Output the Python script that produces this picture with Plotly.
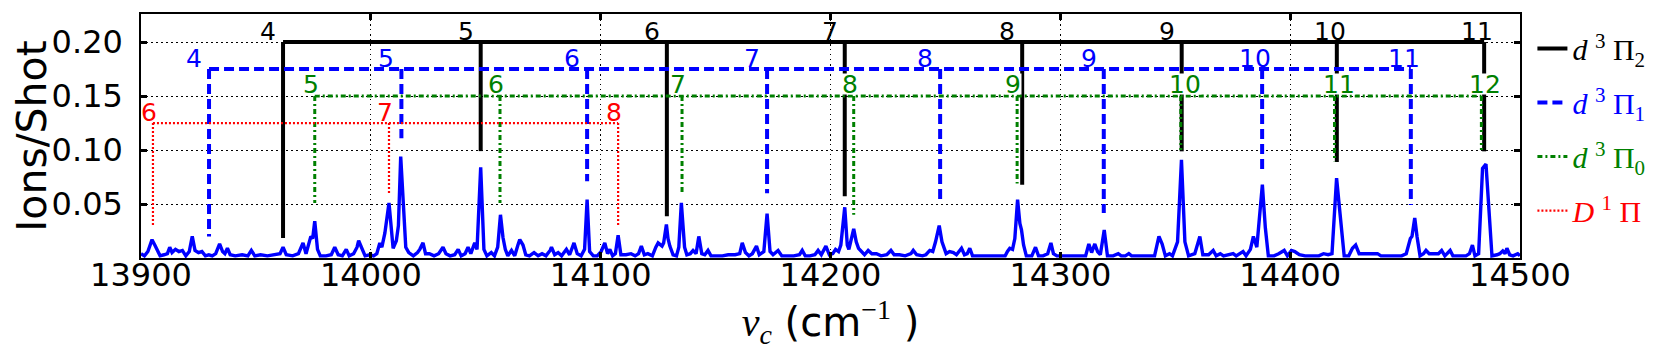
import plotly.graph_objects as go

# ---------------- spectrum data ----------------
nu_a = [13900.0, 13901.5, 13903.0, 13904.8, 13906.0, 13907.0, 13908.3, 13910.0, 13911.5, 13912.5,
        13913.5, 13915.0, 13916.5, 13918.0, 13919.5, 13921.0, 13922.3, 13923.5, 13925.0, 13926.5,
        13928.0, 13929.5, 13931.0, 13932.5, 13934.2, 13935.5, 13936.5, 13937.6, 13938.8, 13941.0,
        13944.0, 13946.5, 13948.0, 13949.5, 13952.0, 13955.0, 13958.0, 13960.5, 13961.8, 13963.2,
        13966.0, 13968.5, 13970.5, 13971.8, 13973.9, 13974.7, 13975.6, 13976.8, 13978.0, 13980.5,
        13982.8, 13984.3, 13985.8, 13987.6, 13989.3, 13990.6, 13992.5, 13994.0, 13994.7, 13996.0,
        13997.5, 13999.5]
ions_a = [.004, .002, .006, .017, .012, .008, .002, .003, .004, .010,
          .005, .008, .006, .007, .002, .006, .020, .007, .005, .006,
          .002, .003, .002, .004, .013, .006, .004, .009, .003, .002,
          .003, .002, .007, .002, .003, .002, .003, .004, .010, .003,
          .002, .004, .014, .004, .020, .018, .034, .008, .002, .002,
          .003, .010, .003, .002, .008, .002, .004, .010, .016, .009,
          .002, .003]

nu_b = [14001.2, 14002.6, 14003.9, 14004.8, 14006.1, 14007.9, 14009.7, 14011.1, 14012.0, 14013.0,
        14014.2, 14015.2, 14016.5, 14018.5, 14020.3, 14021.3, 14022.7, 14023.8, 14025.5, 14027.5,
        14029.5, 14031.4, 14032.7, 14034.5, 14036.5, 14038.0, 14039.3, 14041.0, 14042.3, 14043.5,
        14045.2, 14046.2, 14047.8, 14049.2, 14050.5, 14052.4, 14053.8, 14055.2, 14056.4, 14057.5,
        14058.5, 14059.6, 14061.2, 14062.6, 14064.0, 14064.8, 14066.2, 14067.4, 14069.0, 14071.0,
        14072.8, 14074.5, 14076.2, 14078.0, 14078.6, 14080.0, 14081.5, 14083.0, 14085.1, 14086.5,
        14088.4, 14089.8, 14091.5, 14093.0, 14094.1, 14095.2, 14096.8, 14098.5]
ions_b = [.002, .004, .014, .010, .023, .051, .009, .016, .030, .094,
          .040, .010, .005, .002, .005, .008, .014, .004, .004, .002,
          .004, .010, .004, .002, .003, .008, .002, .004, .010, .004,
          .014, .008, .084, .008, .002, .005, .002, .010, .040, .019,
          .008, .002, .007, .002, .012, .017, .012, .003, .002, .005,
          .002, .004, .002, .007, .010, .003, .005, .002, .008, .003,
          .014, .004, .002, .008, .054, .006, .002, .002]

nu_c = [14100.2, 14101.8, 14103.0, 14104.0, 14105.2, 14106.4, 14107.6, 14108.8, 14111.0, 14113.2,
        14115.0, 14116.5, 14117.7, 14119.0, 14120.5, 14122.5, 14124.0, 14125.0, 14126.7, 14127.4,
        14128.6, 14129.3, 14130.1, 14131.5, 14133.0, 14134.0, 14135.1, 14136.5, 14137.5, 14139.0,
        14140.2, 14141.5, 14142.7, 14144.0, 14145.3, 14146.7, 14148.0, 14150.5, 14153.0, 14155.5,
        14158.5, 14160.5, 14161.6, 14163.0, 14164.5, 14166.0, 14167.8, 14169.0, 14171.0, 14172.4,
        14173.7, 14175.0, 14177.2, 14178.8, 14181.5, 14184.0, 14186.5, 14187.7, 14189.0, 14191.0,
        14193.2, 14194.6, 14196.0, 14198.0, 14199.5]
ions_c = [.006, .014, .004, .008, .002, .004, .021, .003, .003, .004,
          .002, .004, .011, .003, .004, .002, .010, .014, .011, .014,
          .031, .018, .011, .003, .002, .010, .051, .010, .003, .004,
          .007, .004, .020, .004, .003, .007, .002, .002, .002, .003,
          .003, .004, .014, .005, .002, .004, .011, .003, .006, .041,
          .006, .003, .007, .002, .002, .002, .003, .007, .002, .002,
          .003, .007, .003, .011, .003]

nu_d = [14201.0, 14202.2, 14203.5, 14204.5, 14206.2, 14207.3, 14208.0, 14210.1, 14211.2, 14212.2,
        14213.5, 14214.8, 14216.4, 14218.0, 14220.0, 14222.0, 14224.5, 14226.3, 14227.7, 14230.0,
        14232.5, 14235.0, 14236.0, 14237.5, 14240.0, 14241.5, 14243.2, 14244.5, 14245.7, 14247.3,
        14248.5, 14249.0, 14250.3, 14251.8, 14253.5, 14254.8, 14256.0, 14257.0, 14258.3, 14259.5,
        14260.6, 14261.8, 14265.0, 14268.0, 14270.0, 14276.0, 14277.0, 14278.0, 14279.2, 14280.2,
        14281.4, 14282.4, 14283.1, 14284.0, 14285.2, 14287.6, 14289.2, 14290.5, 14292.5, 14294.5,
        14295.9, 14297.0, 14298.5]
ions_d = [.004, .008, .006, .012, .047, .012, .008, .027, .015, .009,
          .006, .003, .007, .004, .004, .002, .003, .007, .003, .003,
          .002, .004, .007, .003, .002, .003, .007, .006, .015, .030,
          .015, .012, .004, .006, .005, .003, .006, .009, .003, .004,
          .009, .002, .002, .002, .002, .002, .006, .009, .008, .018,
          .054, .032, .026, .012, .002, .002, .010, .002, .002, .004,
          .014, .004, .002]

nu_e = [14305.0, 14311.0, 14312.4, 14313.6, 14315.0, 14316.2, 14317.4, 14319.1, 14320.5, 14323.0,
        14325.2, 14326.5, 14328.3, 14329.8, 14331.0, 14341.0, 14342.9, 14344.3, 14345.7, 14347.5,
        14348.8, 14351.0, 14352.7, 14354.2, 14355.8, 14358.5, 14360.7, 14362.0, 14364.5, 14366.5,
        14367.8, 14369.6, 14371.0, 14375.2, 14376.5, 14379.5, 14380.8, 14382.7, 14384.0, 14385.5,
        14387.9, 14389.2, 14390.5, 14393.0, 14395.0, 14397.4, 14398.8]
ions_e = [.002, .002, .013, .005, .013, .006, .003, .026, .002, .002,
          .004, .002, .002, .004, .002, .002, .020, .013, .002, .004,
          .002, .015, .091, .015, .002, .004, .020, .003, .003, .007,
          .002, .004, .002, .004, .002, .006, .002, .008, .020, .010,
          .068, .028, .002, .002, .004, .007, .002]

nu_f = [14400.6, 14402.0, 14404.0, 14406.5, 14412.5, 14414.5, 14416.5, 14418.2, 14420.2, 14421.7,
        14423.5, 14425.5, 14427.1, 14428.5, 14430.0, 14432.0, 14434.0, 14436.0, 14438.0, 14439.5,
        14448.5, 14450.5, 14452.3, 14453.0, 14454.2, 14455.2, 14456.5, 14458.0, 14459.1, 14460.5,
        14462.5, 14464.5, 14465.9, 14467.3, 14469.6, 14470.8, 14476.5, 14478.0, 14479.3, 14480.4,
        14482.0, 14483.7, 14485.2, 14486.5, 14487.8, 14490.0, 14491.2, 14492.5, 14493.5, 14494.3,
        14495.5, 14497.0, 14499.0, 14500.0]
ions_f = [.007, .006, .003, .002, .002, .004, .003, .004, .074, .041,
          .002, .002, .009, .012, .004, .004, .004, .004, .004, .002,
          .002, .004, .018, .020, .037, .020, .002, .004, .007, .004,
          .004, .004, .007, .002, .007, .002, .002, .004, .012, .002,
          .004, .083, .087, .040, .002, .003, .004, .0065, .004, .009,
          .003, .002, .004, .002]

# ---------------- vibrational progressions ----------------
d3pi2_v = [4, 5, 6, 7, 8, 9, 10, 11]
d3pi2_nu = [13961.8, 14047.8, 14128.8, 14206.2, 14283.4, 14352.8, 14420.3, 14484.4]
d3pi2_low = [0.0185, 0.099, 0.0386, 0.0571, 0.0679, 0.0988, 0.0889, 0.0988]
d3pi2_level = 0.20

d3pi1_v = [4, 5, 6, 7, 8, 9, 10, 11]
d3pi1_nu = [13929.6, 14013.3, 14094.1, 14172.4, 14247.7, 14318.9, 14387.8, 14452.5]
d3pi1_low = [0.020, 0.111, 0.071, 0.060, 0.051, 0.0417, 0.080, 0.049]
d3pi1_level = 0.175

d3pi0_v = [5, 6, 7, 8, 9, 10, 11, 12]
d3pi0_nu = [13975.6, 14056.2, 14135.4, 14210.1, 14281.2, 14352.4, 14419.3, 14483.2]
d3pi0_low = [0.051, 0.051, 0.060, 0.040, 0.069, 0.100, 0.0895, 0.100]
d3pi0_level = 0.15

D1pi_v = [6, 7, 8]
D1pi_nu = [13905.2, 14007.9, 14107.6]
D1pi_low = [0.029, 0.060, 0.029]
D1pi_level = 0.125

x_ticks = [13900, 14000, 14100, 14200, 14300, 14400, 14500]
y_ticks = [0.05, 0.10, 0.15, 0.20]

nu_all = nu_a + nu_b + nu_c + nu_d + nu_e + nu_f
ions_all = ions_a + ions_b + ions_c + ions_d + ions_e + ions_f
assert len(nu_all) == len(ions_all)

fig = go.Figure()
fig.add_trace(go.Scatter(x=nu_all, y=ions_all, mode="lines",
                         line=dict(color="#0000ff", width=3.4), showlegend=False,
                         hoverinfo="skip"))

SERIF = "Liberation Serif"
NBSP = "\u00a0"


def progression(nus, lows, level, color, dash, width, name, group):
    xs = [nus[0], nus[-1], None]
    ys = [level, level, None]
    for n, lo in zip(nus, lows):
        xs += [n, n, None]
        ys += [level, lo, None]
    fig.add_trace(go.Scatter(x=xs, y=ys, mode="lines", name=name,
                             legendgroup=group,
                             line=dict(color=color, width=width, dash=dash)))


progression(d3pi2_nu, d3pi2_low, d3pi2_level, "black", "solid", 4,
            '<span style="color:black"><i>d</i> <sup>3</sup> Π<sub>2</sub></span>', "a")
progression(d3pi1_nu, d3pi1_low, d3pi1_level, "#0000ff", "10px,5px", 4,
            '<span style="color:#0000ff"><i>d</i> <sup>3</sup> Π<sub>1</sub></span>', "b")
progression(d3pi0_nu, d3pi0_low, d3pi0_level, "#008000", "5px,3px,2px,3px", 3,
            '<span style="color:#008000"><i>d</i> <sup>3</sup> Π<sub>0</sub></span>', "c")
progression(D1pi_nu, D1pi_low, D1pi_level, "#ff0000", "2px,2px", 2.2,
            '<span style="color:#ff0000"><i>D</i> <sup>1</sup> Π<sub>' + NBSP + '</sub></span>', "d")


def labels(vs, nus, level, color, xshift, yshift, bg):
    for v, n in zip(vs, nus):
        fig.add_annotation(x=n, y=level, text=str(v), showarrow=False,
                           xanchor="left", yanchor="bottom", xshift=xshift, yshift=yshift,
                           height=20, valign="middle", borderpad=0,
                           bgcolor="white" if bg else "rgba(0,0,0,0)",
                           font=dict(family="DejaVu Sans", size=25, color=color))


labels(d3pi2_v, d3pi2_nu, d3pi2_level, "black", -24, 0, False)
labels(d3pi1_v, d3pi1_nu, d3pi1_level, "#0000ff", -24, 0, False)
labels(d3pi0_v, d3pi0_nu, d3pi0_level, "#008000", -13, 1.5, True)
labels(D1pi_v, D1pi_nu, D1pi_level, "#ff0000", -13, 0, False)

axis_common = dict(showline=True, linecolor="black", linewidth=1.5, mirror="allticks",
                   ticks="inside", ticklen=6, tickwidth=3, tickcolor="black",
                   showgrid=True, gridcolor="black", gridwidth=1, griddash="1.5px,3.5px",
                   zeroline=False, tickfont=dict(family="DejaVu Sans", size=32, color="black"))

fig.update_xaxes(range=[13900, 14500], tickvals=x_ticks, ticktext=[str(t) for t in x_ticks],
                 ticklabelstandoff=-12,
                 title=dict(text='<span style="font-family:Liberation Serif"><i>ν</i><sub><i>c</i></sub></span>'
                                 ' (cm<sup><span style="font-family:Liberation Serif">−1</span></sup> )',
                            font=dict(family="DejaVu Sans", size=40, color="black"), standoff=6),
                 **axis_common)
fig.update_yaxes(range=[0, 0.226], tickvals=y_ticks, ticktext=["%.2f" % t for t in y_ticks],
                 ticklabelstandoff=10,
                 title=dict(text="Ions/Shot", font=dict(family="DejaVu Sans", size=41, color="black"),
                            standoff=16),
                 **axis_common)

fig.update_layout(
    width=1655, height=351,
    margin=dict(l=133, r=143, t=6, b=101, autoexpand=False),
    paper_bgcolor="white", plot_bgcolor="white",
    legend=dict(x=1.009, y=0.965, xanchor="left", yanchor="top",
                font=dict(family=SERIF, size=30), tracegroupgap=12, traceorder="grouped",
                bgcolor="rgba(0,0,0,0)"),
)

fig.write_html("out.html")
